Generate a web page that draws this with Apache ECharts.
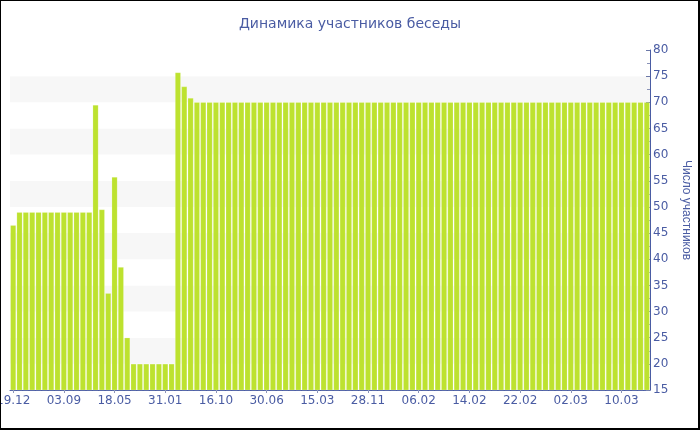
<!DOCTYPE html>
<html>
<head>
<meta charset="utf-8">
<script src="https://cdn.jsdelivr.net/npm/echarts@6/dist/echarts.min.js"></script>
<style>
html,body{margin:0;padding:0;background:#fff;}
#wrap{position:relative;width:700px;height:430px;}
#main{position:absolute;left:0;top:0;width:700px;height:430px;}
#frame{position:absolute;left:0;top:0;width:697px;height:427px;border-left:1px solid #000;border-top:1px solid #000;border-right:2px solid #000;border-bottom:2px solid #000;pointer-events:none;}
</style>
</head>
<body>
<div id="wrap"><div id="main"></div><div id="frame"></div></div>
<script>
var titleText = 'Динамика участников беседы';
var axisName = 'Число участников';

var categories = [
  '19.12','20.01','21.02','25.03','26.04','28.05','29.06','31.07',
  '03.09','05.10','06.11','08.12','09.01','10.02','14.03','15.04',
  '18.05','19.06','21.07','22.08','23.09','25.10','26.11','28.12',
  '31.01','04.03','05.04','07.05','08.06','10.07','11.08','12.09',
  '16.10','17.11','19.12','20.01','21.02','25.03','26.04','28.05',
  '30.06','01.08','02.09','04.10','05.11','07.12','08.01','09.02',
  '15.03','16.04','18.05','19.06','21.07','22.08','23.09','25.10',
  '28.11','07.12','16.12','25.12','03.01','12.01','21.01','29.01',
  '06.02','07.02','08.02','09.02','10.02','11.02','12.02','13.02',
  '14.02','15.02','16.02','17.02','18.02','19.02','20.02','21.02',
  '22.02','23.02','24.02','25.02','26.02','27.02','28.02','01.03',
  '02.03','03.03','04.03','05.03','06.03','07.03','08.03','09.03',
  '10.03','11.03','12.03','13.03','14.03'
];

var participants = [
  46.5, 49, 49, 49, 49, 49, 49, 49, 49, 49, 49, 49, 49,
  69.5, 49.5, 33.5, 55.7, 38.5, 25,
  20, 20, 20, 20, 20, 20, 20,
  75.7, 73, 70.8,
  70, 70, 70, 70, 70, 70, 70, 70, 70, 70, 70, 70,
  70, 70, 70, 70, 70, 70, 70, 70, 70, 70, 70, 70,
  70, 70, 70, 70, 70, 70, 70, 70, 70, 70, 70, 70,
  70, 70, 70, 70, 70, 70, 70, 70, 70, 70, 70, 70,
  70, 70, 70, 70, 70, 70, 70, 70, 70, 70, 70, 70,
  70, 70, 70, 70, 70, 70, 70, 70, 70, 70, 70, 70
];

var textColor = '#4a5ca3';
var chart = echarts.init(document.getElementById('main'), null, {renderer: 'canvas'});
chart.setOption({
  animation: false,
  backgroundColor: '#fff',
  title: {
    text: titleText,
    left: 'center',
    top: 12,
    textStyle: {color: textColor, fontSize: 14, fontWeight: 'normal', fontFamily: 'DejaVu Sans'}
  },
  grid: {left: 10, right: 50, top: 50, bottom: 40, containLabel: false, outerBoundsMode: 'none'},
  xAxis: {
    type: 'category',
    data: categories,
    boundaryGap: true,
    axisLine: {lineStyle: {color: textColor, width: 1}},
    axisTick: {show: true, alignWithLabel: true, interval: 7, length: 3, lineStyle: {color: '#8a93b8'}},
    axisLabel: {interval: 7, color: textColor, fontSize: 12, fontFamily: 'DejaVu Sans', margin: 5, hideOverlap: false},
    splitLine: {show: false}
  },
  yAxis: {
    type: 'value',
    position: 'right',
    min: 15,
    max: 80,
    interval: 5,
    name: axisName,
    nameLocation: 'middle',
    nameRotate: -90,
    nameGap: 30,
    nameTextStyle: {color: textColor, fontSize: 12, fontFamily: 'Liberation Sans', padding: [0, 20, 0, 0]},
    axisLine: {show: true, lineStyle: {color: textColor, width: 1}},
    axisTick: {show: true, inside: true, length: 4, lineStyle: {color: '#6b78a8'}},
    minorTick: {show: true, splitNumber: 2, length: 3, lineStyle: {color: '#8a93b8'}},
    axisLabel: {color: textColor, fontSize: 12, fontFamily: 'DejaVu Sans', margin: 3},
    splitLine: {show: false},
    splitArea: {show: true, areaStyle: {color: ['#ffffff', '#f7f7f7']}}
  },
  series: [{
    type: 'bar',
    data: participants,
    barCategoryGap: '10%',
    itemStyle: {color: '#bde22f', borderColor: 'rgba(255,255,255,0.35)', borderWidth: 0.5}
  }]
});
</script>
</body>
</html>
